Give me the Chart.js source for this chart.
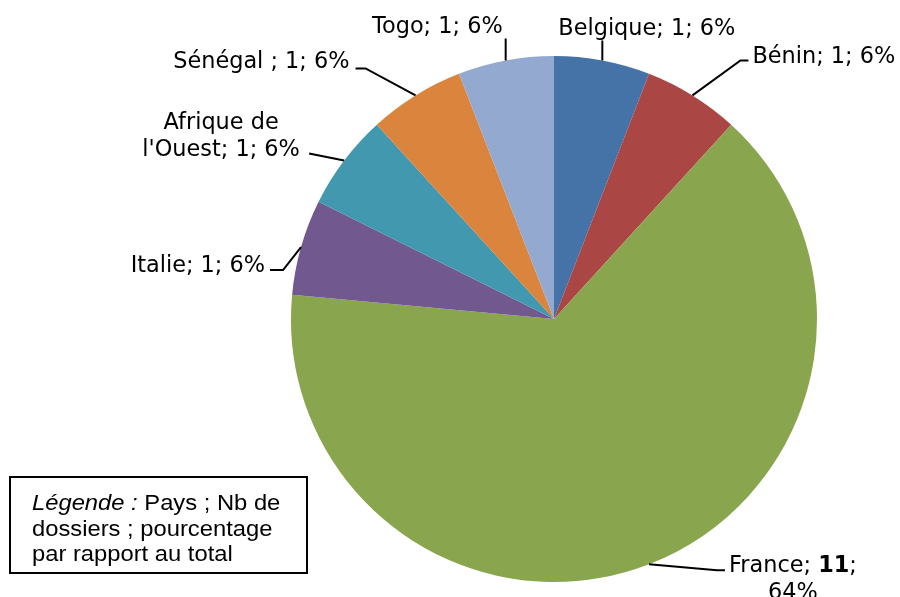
<!DOCTYPE html>
<html>
<head>
<meta charset="utf-8">
<script src="https://cdn.jsdelivr.net/npm/chart.js@4/dist/chart.umd.min.js"></script>
<style>
  body { margin: 0; background: #fff; }
  #wrap { width: 900px; height: 597px; }
</style>
</head>
<body>
<div id="wrap"><canvas id="chart" width="900" height="597"></canvas></div>
<script>
const countries = ['Belgique', 'Bénin', 'France', 'Italie', "Afrique de l'Ouest", 'Sénégal', 'Togo'];
const dossiers = [1, 1, 11, 1, 1, 1, 1];
const percents = ['6%', '6%', '64%', '6%', '6%', '6%', '6%'];
const colors = ['#4572A7', '#AA4643', '#89A54E', '#71588F', '#4198AF', '#DB843D', '#93A9CF'];
const legendLines = [
  [{ t: 'Légende :', i: true }, { t: ' Pays ; Nb de' }],
  [{ t: 'dossiers ; pourcentage' }],
  [{ t: 'par rapport au total' }]
];

// how each label is placed relative to the outer middle of its slice
const leaders = [
  { elbow: [0, -20], horiz: 0, align: 'left', dx: -44, dy: -5 },
  { elbow: [48, -35], horiz: 8, align: 'left', dx: 4, dy: 3 },
  { elbow: [68, 6], horiz: 8, align: 'center', dx: 68, dy: 2 },
  { elbow: [-18, 23], horiz: -13, align: 'right', dx: -5, dy: 2 },
  { elbow: [-35, -7], horiz: 0, align: 'center', dx: -88, dy: 2, split: true },
  { elbow: [-50, -27], horiz: -10, align: 'right', dx: -6, dy: 0 },
  { elbow: [0, -22], horiz: 0, align: 'right', dx: -3, dy: -5 }
];

function labelLines(i) {
  const name = countries[i];
  const v = String(dossiers[i]);
  if (i === 2) {
    return [[{ t: name + '; ' }, { t: v, b: true }, { t: ';' }], [{ t: percents[i] }]];
  }
  if (leaders[i].split) {
    return [[{ t: 'Afrique de' }], [{ t: "l'Ouest; " + v + '; ' + percents[i] }]];
  }
  const sep = name === 'Sénégal' ? ' ; ' : '; ';
  return [[{ t: name + sep + v + '; ' + percents[i] }]];
}

function runFont(r, size, family) {
  return (r.i ? 'italic ' : '') + (r.b ? 'bold ' : '') + size + 'px ' + family;
}

function drawRuns(ctx, lines, x, y, align, size, family, lh, lastBaseline) {
  const widths = lines.map(line => line.reduce((s, r) => {
    ctx.font = runFont(r, size, family);
    return s + ctx.measureText(r.t).width;
  }, 0));
  const startY = lastBaseline ? y - (lines.length - 1) * lh : y;
  lines.forEach((line, li) => {
    let cx = x;
    if (align === 'center') cx = x - widths[li] / 2;
    if (align === 'right') cx = x - widths[li];
    line.forEach(r => {
      ctx.font = runFont(r, size, family);
      ctx.fillText(r.t, cx, startY + li * lh);
      cx += ctx.measureText(r.t).width;
    });
  });
}

const labelPlugin = {
  id: 'leaderLabels',
  afterDatasetsDraw(chart) {
    const ctx = chart.ctx;
    const meta = chart.getDatasetMeta(0);
    ctx.save();
    ctx.fillStyle = '#000';
    ctx.strokeStyle = '#000';
    ctx.lineWidth = 2;
    ctx.textBaseline = 'alphabetic';
    ctx.textAlign = 'left';
    meta.data.forEach((arc, i) => {
      const p = arc.getProps(['x', 'y', 'startAngle', 'endAngle', 'outerRadius'], true);
      const mid = (p.startAngle + p.endAngle) / 2;
      const ax = p.x + Math.cos(mid) * p.outerRadius;
      const ay = p.y + Math.sin(mid) * p.outerRadius;
      const cfg = leaders[i];
      const ex = ax + cfg.elbow[0];
      const ey = ay + cfg.elbow[1];
      const hx = ex + cfg.horiz;
      ctx.beginPath();
      ctx.moveTo(ax, ay);
      ctx.lineTo(ex, ey);
      ctx.lineTo(hx, ey);
      ctx.stroke();
      const lines = labelLines(i);
      drawRuns(ctx, lines, hx + cfg.dx, ey + cfg.dy, cfg.align, 22.4, '"DejaVu Sans"', 27, !!cfg.split);
    });
    ctx.restore();
  },
  afterDraw(chart) {
    const ctx = chart.ctx;
    ctx.save();
    ctx.strokeStyle = '#000';
    ctx.lineWidth = 2;
    ctx.strokeRect(10, 477, 297, 96);
    ctx.fillStyle = '#000';
    ctx.translate(32, 510);
    ctx.scale(1.08, 1);
    drawRuns(ctx, legendLines, 0, 0, 'left', 22, '"Liberation Sans", Arial, sans-serif', 25.5, false);
    ctx.restore();
  }
};

new Chart(document.getElementById('chart'), {
  type: 'pie',
  data: {
    labels: countries,
    datasets: [{
      data: dossiers,
      backgroundColor: colors,
      borderWidth: 0
    }]
  },
  options: {
    responsive: false,
    animation: false,
    layout: { padding: { top: 56, bottom: 15, left: 291, right: 83 } },
    plugins: {
      legend: { display: false },
      tooltip: { enabled: false }
    }
  },
  plugins: [labelPlugin]
});
</script>
</body>
</html>
